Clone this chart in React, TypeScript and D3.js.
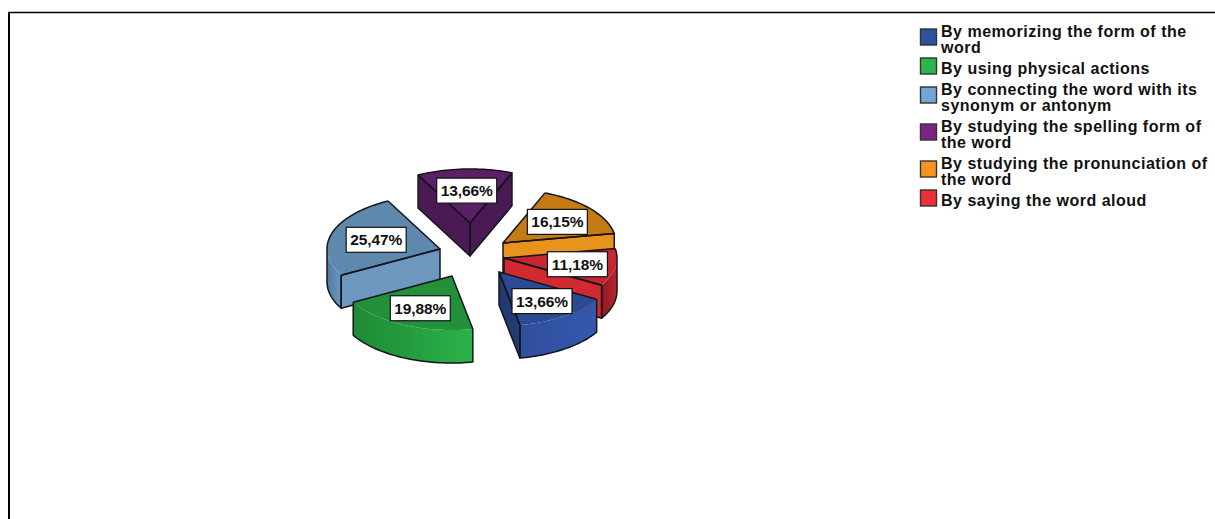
import { line, pie, range, scaleLinear } from "d3";

const WIDTH = 1215;
const HEIGHT = 519;

const CENTER = { x: 475, y: 255 };
const RX = 113;
const RY = 54;
const DEPTH = 33;
const START_DEG = 120.2;

const categories = ["memorize", "physical", "synonym", "spelling", "pronunciation", "aloud"];
const legendLines = [
  ["By memorizing the form of the", "word"],
  ["By using physical actions"],
  ["By connecting the word with its", "synonym or antonym"],
  ["By studying the spelling form of", "the word"],
  ["By studying the pronunciation of", "the word"],
  ["By saying the word aloud"],
];
const values = [13.66, 19.88, 25.47, 13.66, 16.15, 11.18];

// how far each slice is pulled out of the pie, and where its label sits along the slice
const explodeX = [24, -23, -35, -5, 28, 29];
const explodeY = [17, 21, -6, -32, -12, 3];
const labelRadius = [0.66, 0.66, 0.59, 0.6, 0.62, 0.66];

const legendColors = ["#2f52a0", "#2cb54b", "#73a5d8", "#7c2482", "#f7941d", "#ed2f3a"];
const topColors = ["#2b4a94", "#22913a", "#5f88ad", "#5a1f66", "#c47b14", "#c5262f"];
const cutColors = ["#233a72", "#1d7a30", "#6e97bf", "#4a1a55", "#e8931c", "#d22a31"];
const wallDark = ["#2f4f9c", "#1f8a35", "#4f7ba6", "#4a1a55", "#e8931c", "#8f1c22"];
const wallLight = ["#3558ad", "#2bb24a", "#6a96bf", "#4a1a55", "#e8931c", "#b8252b"];

// back to front
const DRAW_ORDER = [3, 4, 5, 0, 2, 1];
const STROKE = "#14141c";

const xScale = scaleLinear().domain([-1, 1]).range([-RX, RX]);
const yScale = scaleLinear().domain([-1, 1]).range([-RY, RY]);

const slices = pie<number>()
  .sort(null)
  .startAngle((START_DEG * Math.PI) / 180)
  .endAngle((START_DEG * Math.PI) / 180 + 2 * Math.PI)(values);

const toPath = line<[number, number]>();

function rimPoint(angle: number): [number, number] {
  return [xScale(Math.sin(angle)), yScale(-Math.cos(angle))];
}

function arcPoints(a0: number, a1: number): [number, number][] {
  const steps = Math.max(2, Math.ceil(Math.abs(a1 - a0) / 0.03));
  return range(steps + 1).map((i) => rimPoint(a0 + ((a1 - a0) * i) / steps));
}

function shifted(points: [number, number][], dy: number): [number, number][] {
  return points.map(([x, y]) => [x, y + dy] as [number, number]);
}

function clip(a0: number, a1: number, ranges: number[][]) {
  return ranges
    .map(([lo, hi]) => [Math.max(a0, lo), Math.min(a1, hi)])
    .filter(([lo, hi]) => hi > lo);
}

const PI = Math.PI;
const FRONT = [[PI / 2, 1.5 * PI], [2.5 * PI, 3.5 * PI]];
const BACK = [[1.5 * PI, 2.5 * PI]];

function Slice({ index }: { index: number }) {
  const { startAngle: a0, endAngle: a1 } = slices[index];
  const apex: [number, number] = [0, 0];

  const rim0 = rimPoint(a0);
  const rim1 = rimPoint(a1);
  const topFace = [apex, ...arcPoints(a0, a1)];

  const walls = clip(a0, a1, FRONT).map(([lo, hi]) => arcPoints(lo, hi));
  const backRims = clip(a0, a1, BACK).map(([lo, hi]) => arcPoints(lo, hi));

  const cuts: [number, number][][] = [];
  if (Math.sin(a0) < 0) cuts.push([apex, rim0, [rim0[0], rim0[1] + DEPTH], [0, DEPTH]]);
  if (Math.sin(a1) > 0) cuts.push([apex, rim1, [rim1[0], rim1[1] + DEPTH], [0, DEPTH]]);

  return (
    <g transform={`translate(${CENTER.x + explodeX[index]},${CENTER.y + explodeY[index]})`} strokeLinejoin="round">
      {walls.map((rim, i) => (
        <path
          key={`wall${i}`}
          d={`${toPath([...rim, ...shifted(rim, DEPTH).reverse()])}Z`}
          fill={`url(#wall-${categories[index]})`}
        />
      ))}
      <path d={`${toPath(topFace)}Z`} fill={topColors[index]} />
      {cuts.map((pts, i) => (
        <path key={`cut${i}`} d={`${toPath(pts)}Z`} fill={cutColors[index]} stroke={STROKE} strokeWidth={1.5} />
      ))}
      <g fill="none" stroke={STROKE} strokeWidth={1.5}>
        {walls.map((rim, i) => (
          <path
            key={`edge${i}`}
            d={toPath([rim[0], ...shifted(rim, DEPTH), rim[rim.length - 1]]) ?? ""}
          />
        ))}
        {backRims.map((rim, i) => (
          <path key={`back${i}`} d={toPath(rim) ?? ""} />
        ))}
        <path d={toPath([rim0, apex, rim1]) ?? ""} />
      </g>
    </g>
  );
}

function Label({ index }: { index: number }) {
  const { startAngle: a0, endAngle: a1 } = slices[index];
  const mid = (a0 + a1) / 2;
  const x = CENTER.x + explodeX[index] + labelRadius[index] * xScale(Math.sin(mid));
  const y = CENTER.y + explodeY[index] + labelRadius[index] * yScale(-Math.cos(mid));
  return (
    <g transform={`translate(${x},${y})`}>
      <rect x={-30} y={-12.5} width={60} height={25} fill="#fff" stroke="#111" strokeWidth={1.2} />
      <text y={5.5} textAnchor="middle" fontSize={15.5} fontWeight={700} letterSpacing={-0.1} fill="#111">
        {values[index].toFixed(2).replace(".", ",")}%
      </text>
    </g>
  );
}

function Legend() {
  let lineY = 31;
  return (
    <g>
      {legendLines.map((lines, i) => {
        const y = lineY;
        lineY += lines.length * 16 + 5;
        const swatchTop = y + (lines.length === 2 ? -2 : -10);
        return (
          <g key={categories[i]}>
            <rect x={920.5} y={swatchTop} width={16} height={16} fill={legendColors[i]} stroke="#333" strokeWidth={1.4} />
            {lines.map((txt, j) => (
              <text key={j} x={941} y={y + j * 16 + 5.5} fontSize={16} fontWeight={700} letterSpacing={0.5} fill="#111">
                {txt}
              </text>
            ))}
          </g>
        );
      })}
    </g>
  );
}

export default function App() {
  return (
    <svg
      width={WIDTH}
      height={HEIGHT}
      viewBox={`0 0 ${WIDTH} ${HEIGHT}`}
      style={{ position: "absolute", left: 0, top: 0, display: "block", background: "#fff" }}
      fontFamily="'Liberation Sans', Arial, sans-serif"
    >
      <defs>
        {categories.map((name, i) => (
          <linearGradient key={name} id={`wall-${name}`} x1="0" x2="1" y1="0" y2="0">
            <stop offset="0" stopColor={wallDark[i]} />
            <stop offset="1" stopColor={wallLight[i]} />
          </linearGradient>
        ))}
      </defs>
      <path d={`M9,${HEIGHT}V12.5H${WIDTH}`} fill="none" stroke="#000" strokeWidth={1.5} />
      <path d={`M9,${HEIGHT}V13`} fill="none" stroke="#000" strokeWidth={2} />
      {DRAW_ORDER.map((i) => (
        <Slice key={categories[i]} index={i} />
      ))}
      {DRAW_ORDER.map((i) => (
        <Label key={categories[i]} index={i} />
      ))}
      <Legend />
    </svg>
  );
}
